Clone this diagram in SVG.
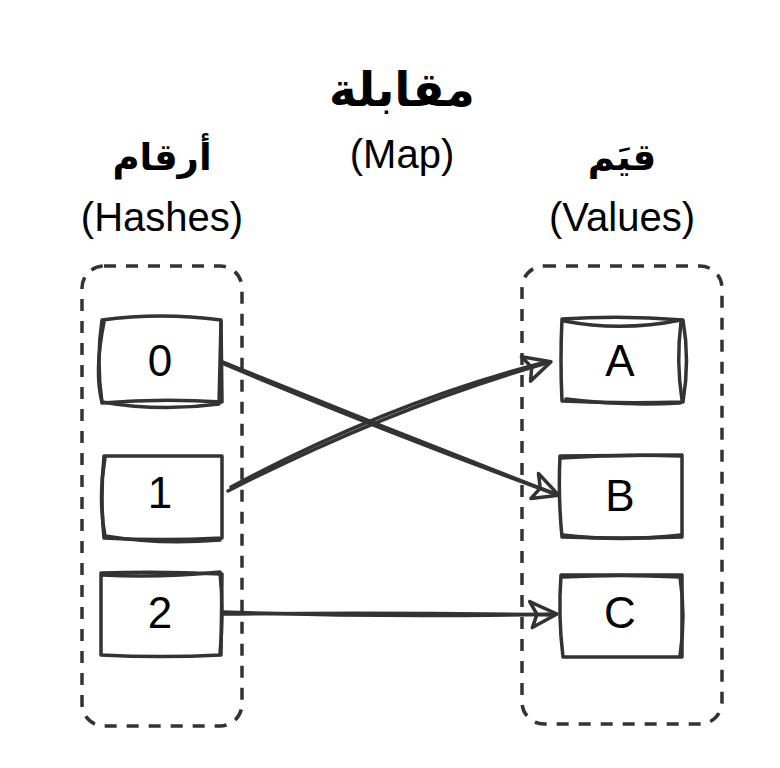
<svg xmlns="http://www.w3.org/2000/svg" width="780" height="768" viewBox="0 0 780 768">
<defs>
<style>
.lat{font-family:"Liberation Sans",Arial,sans-serif;fill:#000;text-anchor:middle}
.ar{font-family:"DejaVu Sans","Noto Sans",sans-serif;font-weight:bold;fill:#000;text-anchor:middle}
.box{fill:none;stroke:#333;stroke-width:3.5;stroke-linejoin:round;stroke-linecap:round}
.grp{fill:none;stroke:#333;stroke-width:3.5;stroke-dasharray:12 10}
.con{fill:none;stroke:#333;stroke-width:3.5;stroke-linecap:round}
.lbl{font-family:"Liberation Sans",Arial,sans-serif;font-size:44px;fill:#000;text-anchor:middle}
</style>
<marker id="ahb" viewBox="-2 -2 34 34" refX="28" refY="15" markerWidth="34" markerHeight="34" orient="auto" markerUnits="userSpaceOnUse">
<path d="M2,2 L29,15 L4,28 L9,15 Z" fill="none" stroke="#333" stroke-width="3.5" stroke-linejoin="round"/>
</marker>
</defs>
<rect width="780" height="768" fill="#fff"/>

<g id="titles">
<text class="ar" x="402" y="106" font-size="47">مقابلة</text>
<text class="lat" x="402" y="168" font-size="40">(Map)</text>
<text class="ar" x="162" y="170" font-size="37">أرقام</text>
<text class="lat" x="162" y="231" font-size="40">(Hashes)</text>
<text class="ar" x="622" y="170" font-size="37">قيَم</text>
<text class="lat" x="622" y="231" font-size="40">(Values)</text>
</g>

<g id="group-hashes">
<rect class="grp" x="82" y="266" width="160" height="460" rx="22"/>
</g>
<g id="group-values">
<rect class="grp" x="522" y="266" width="200" height="458" rx="22"/>
</g>

<g id="node-0">
<path class="box" d="M102,320 Q160,312 221,320 L222,402 Q160,398 102,403 Q96,360 102,320 Z"/>
<path class="box" d="M104,322 Q94,372 102,402 Q160,412 219,404 L221,322" stroke-width="2.2"/>
<text class="lbl" x="160" y="376">0</text>
</g>
<g id="node-1">
<path class="box" d="M104,456 L222,456 L222,538 Q160,541 104,538 Q100,497 104,456 Z"/>
<path class="box" d="M105,458 Q98,498 105,536 Q160,545 220,540" stroke-width="2.2"/>
<text class="lbl" x="160" y="508">1</text>
</g>
<g id="node-2">
<path class="box" d="M101,573 Q160,571 222,574 L221,655 Q160,658 101,655 Z"/>
<path class="box" d="M102,575 Q160,578 220,572 Q224,612 220,654" stroke-width="2.2"/>
<text class="lbl" x="160" y="628">2</text>
</g>

<g id="node-A">
<path class="box" d="M562,319 Q622,315 683,320 Q690,360 683,402 Q622,404 562,401 Q560,360 562,319 Z"/>
<path class="box" d="M564,321 Q622,332 681,320 M681,322 Q676,362 682,400 M566,399 Q622,406 680,403" stroke-width="2.2"/>
<text class="lbl" x="620" y="376">A</text>
</g>
<g id="node-B">
<path class="box" d="M560,456 L682,455 L682,537 Q620,539 562,537 Q558,497 560,456 Z"/>
<path class="box" d="M561,458 Q620,454 680,456 M563,535 Q620,542 681,535" stroke-width="2.2"/>
<text class="lbl" x="620" y="511">B</text>
</g>
<g id="node-C">
<path class="box" d="M561,575 L682,575 L682,657 L563,657 Q558,616 561,575 Z"/>
<path class="box" d="M563,577 Q620,574 680,577 Q686,616 680,656" stroke-width="2.2"/>
<text class="lbl" x="620" y="628">C</text>
</g>

<g id="connectors">
<path class="con" d="M223,362 Q390,430 558,495" marker-end="url(#ahb)"/>
<path class="con" d="M224,364 Q390,434 555,494" stroke-width="2.2"/>
<path class="con" d="M228,491 Q390,408 550,362" marker-end="url(#ahb)"/>
<path class="con" d="M231,487 Q390,402 546,362" stroke-width="2.2"/>
<path class="con" d="M222,612 Q390,618 556,614" marker-end="url(#ahb)"/>
<path class="con" d="M223,614 Q390,612 554,615" stroke-width="2.2"/>
</g>
</svg>
